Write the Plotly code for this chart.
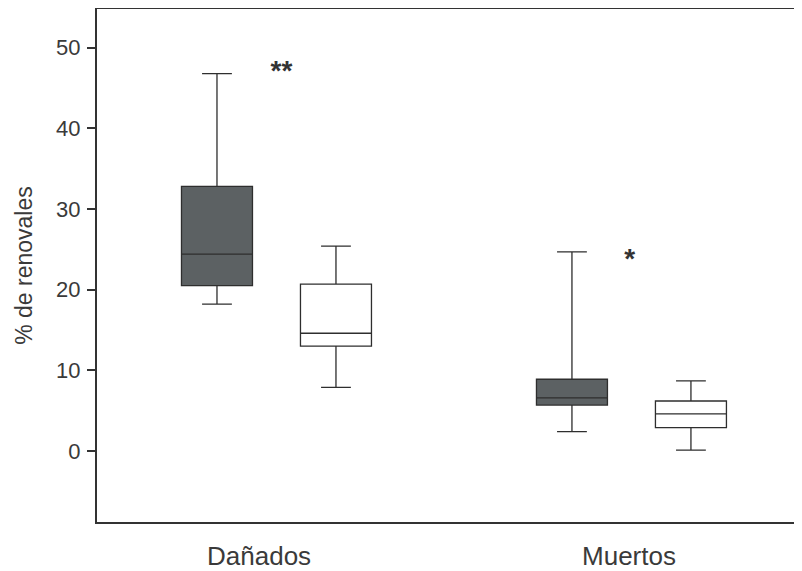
import plotly.graph_objects as go

groups = ["Dañados", "Muertos"]

# dark (filled) boxes
dark_pos = [0.8324, 1.8324]
dark_low = [18.2, 2.4]
dark_q1 = [20.5, 5.7]
dark_med = [24.4, 6.6]
dark_q3 = [32.8, 8.9]
dark_high = [46.8, 24.7]

# white boxes
white_pos = [1.1676, 2.1676]
white_low = [7.9, 0.1]
white_q1 = [13.0, 2.9]
white_med = [14.6, 4.6]
white_q3 = [20.7, 6.2]
white_high = [25.4, 8.7]

stars = ["<b>**</b>", "<b>*</b>"]
star_x = [1.014, 1.995]
star_y = [46.9, 23.6]

fig = go.Figure()
fig.add_trace(go.Box(x=dark_pos, q1=dark_q1, median=dark_med, q3=dark_q3,
                     lowerfence=dark_low, upperfence=dark_high,
                     width=0.2, whiskerwidth=0.42,
                     fillcolor="#5c6163", line=dict(color="#2e2e2e", width=1.3),
                     boxpoints=False, hoverinfo="skip"))
fig.add_trace(go.Box(x=white_pos, q1=white_q1, median=white_med, q3=white_q3,
                     lowerfence=white_low, upperfence=white_high,
                     width=0.2, whiskerwidth=0.42,
                     fillcolor="white", line=dict(color="#2e2e2e", width=1.3),
                     boxpoints=False, hoverinfo="skip"))
fig.add_trace(go.Scatter(x=star_x, y=star_y, mode="text", text=stars,
                         textfont=dict(size=28, color="#333333",
                                       family="Liberation Sans, Arial, sans-serif"),
                         hoverinfo="skip"))

# the page body adds ~8px offset, margins compensate for it
fig.update_layout(width=802, height=571, showlegend=False,
                  plot_bgcolor="white", paper_bgcolor="white",
                  margin=dict(l=89, r=0, t=1, b=57),
                  font=dict(family="Liberation Sans, Arial, sans-serif", color="#3a3a3a"))
fig.update_xaxes(range=[0.4944, 2.503], tickvals=[0.951, 1.993], ticktext=groups,
                 ticks="", tickfont=dict(size=26), ticklabelstandoff=10,
                 showline=True, linecolor="#333333", linewidth=2, mirror=True,
                 showgrid=False, zeroline=False)
fig.update_yaxes(range=[-8.8, 54.8], tickvals=[0, 10, 20, 30, 40, 50],
                 ticks="outside", ticklen=8, tickcolor="#333333", tickwidth=1.5,
                 tickfont=dict(size=22), ticklabelstandoff=2,
                 title=dict(text="% de renovales", font=dict(size=23), standoff=17),
                 showline=True, linecolor="#333333", linewidth=2,
                 showgrid=False, zeroline=False)

fig.write_html("out.html")
